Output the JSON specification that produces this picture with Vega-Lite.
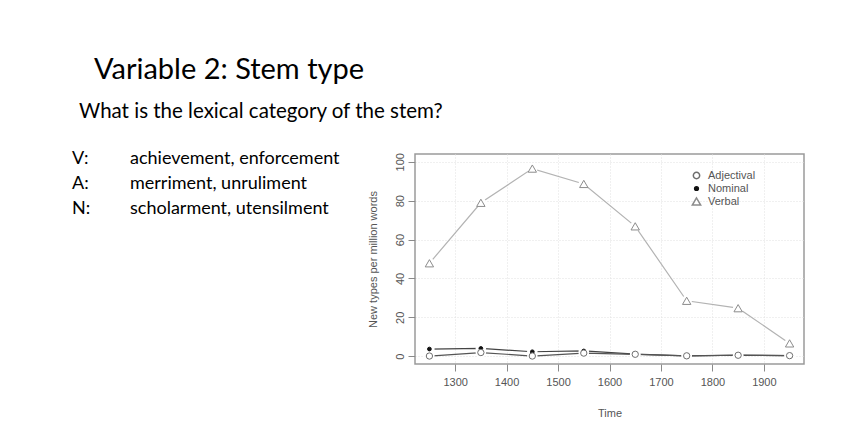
{
  "$schema": "https://vega.github.io/schema/vega-lite/v6.json",
  "autosize": {"type": "pad"},
  "padding": {"left": 72, "top": 54, "right": 64, "bottom": 17},
  "background": "white",
  "config": {"view": {"stroke": null}},
  "spacing": 0,
  "bounds": "flush",
  "resolve": {
    "scale": {"color": "independent", "shape": "independent", "fill": "independent", "stroke": "independent", "size": "independent"},
    "legend": {"color": "independent", "shape": "independent", "fill": "independent", "stroke": "independent", "size": "independent"}
  },
  "hconcat": [
    {
      "width": 343,
      "height": 60,
      "title": {
        "text": "What is the lexical category of the stem?",
        "anchor": "start",
        "frame": "group",
        "dx": 7,
        "offset": 12,
        "baseline": "alphabetic",
        "font": "Lato",
        "fontSize": 20.5,
        "fontWeight": "normal",
        "color": "#000000"
      },
      "data": {
        "values": [
          {"key": "V:", "desc": "achievement, enforcement"},
          {"key": "A:", "desc": "merriment, unruliment"},
          {"key": "N:", "desc": "scholarment, utensilment"}
        ]
      },
      "transform": [{"fold": ["key", "desc"], "as": ["column", "value"]}],
      "mark": {"type": "text", "align": "left", "baseline": "middle", "font": "Lato", "fontSize": 18, "color": "#000000"},
      "encoding": {
        "x": {"field": "column", "type": "nominal", "scale": {"type": "point", "domain": ["key", "desc"], "range": [0, 58], "padding": 0}, "axis": null},
        "y": {"field": "key", "type": "nominal", "sort": ["V:", "A:", "N:"], "scale": {"type": "point", "padding": 0.2}, "axis": null},
        "text": {"field": "value", "type": "nominal"}
      }
    },
    {
      "width": 389,
      "height": 210,
      "view": {"stroke": "#9a9a9a", "strokeWidth": 1.5},
      "title": {
        "text": "Variable 2: Stem type",
        "anchor": "start",
        "frame": "group",
        "dx": -321,
        "offset": 45,
        "baseline": "alphabetic",
        "font": "Lato",
        "fontSize": 29,
        "fontWeight": "normal",
        "color": "#000000"
      },
      "data": {
        "values": [
          {"year": 1250, "series": "Verbal", "value": 47.8},
          {"year": 1350, "series": "Verbal", "value": 78.9},
          {"year": 1450, "series": "Verbal", "value": 96.5},
          {"year": 1550, "series": "Verbal", "value": 88.6},
          {"year": 1650, "series": "Verbal", "value": 66.8},
          {"year": 1750, "series": "Verbal", "value": 28.5},
          {"year": 1850, "series": "Verbal", "value": 24.7},
          {"year": 1950, "series": "Verbal", "value": 6.6},
          {"year": 1250, "series": "Nominal", "value": 3.7},
          {"year": 1350, "series": "Nominal", "value": 4.0},
          {"year": 1450, "series": "Nominal", "value": 2.3},
          {"year": 1550, "series": "Nominal", "value": 2.7},
          {"year": 1650, "series": "Nominal", "value": 1.1},
          {"year": 1750, "series": "Nominal", "value": 0.2},
          {"year": 1850, "series": "Nominal", "value": 0.6},
          {"year": 1950, "series": "Nominal", "value": 0.3},
          {"year": 1250, "series": "Adjectival", "value": 0.1},
          {"year": 1350, "series": "Adjectival", "value": 1.9},
          {"year": 1450, "series": "Adjectival", "value": 0.1},
          {"year": 1550, "series": "Adjectival", "value": 1.6},
          {"year": 1650, "series": "Adjectival", "value": 1.0},
          {"year": 1750, "series": "Adjectival", "value": 0.2},
          {"year": 1850, "series": "Adjectival", "value": 0.5},
          {"year": 1950, "series": "Adjectival", "value": 0.3}
        ]
      },
      "encoding": {
        "x": {
          "field": "year",
          "type": "quantitative",
          "scale": {"domain": [1222, 1978], "nice": false, "zero": false},
          "axis": {
            "values": [1300, 1400, 1500, 1600, 1700, 1800, 1900],
            "format": "d",
            "title": "Time",
            "grid": true,
            "gridColor": "#e0e0e0",
            "gridDash": [1, 2],
            "domain": false,
            "tickColor": "#8a8a8a",
            "tickSize": 7,
            "labelFont": "Liberation Sans",
            "labelFontSize": 11,
            "labelColor": "#555555",
            "labelPadding": 5,
            "titleFont": "Liberation Sans",
            "titleFontSize": 11,
            "titleFontWeight": "normal",
            "titleColor": "#555555",
            "titlePadding": 20
          }
        },
        "y": {
          "field": "value",
          "type": "quantitative",
          "scale": {"domain": [-4, 104], "nice": false, "zero": false},
          "axis": {
            "values": [0, 20, 40, 60, 80, 100],
            "format": "d",
            "title": "New types per million words",
            "grid": true,
            "gridColor": "#e0e0e0",
            "gridDash": [1, 2],
            "domain": false,
            "tickColor": "#8a8a8a",
            "tickSize": 7,
            "labelAngle": -90,
            "labelAlign": "center",
            "labelBaseline": "bottom",
            "labelFont": "Liberation Sans",
            "labelFontSize": 11,
            "labelColor": "#555555",
            "labelPadding": 3,
            "titleFont": "Liberation Sans",
            "titleFontSize": 11,
            "titleFontWeight": "normal",
            "titleColor": "#555555",
            "titlePadding": 16
          }
        }
      },
      "layer": [
        {
          "mark": {"type": "line", "strokeWidth": 1.2},
          "encoding": {
            "color": {
              "field": "series",
              "type": "nominal",
              "scale": {"domain": ["Verbal", "Nominal", "Adjectival"], "range": ["#b3b3b3", "#444444", "#555555"]},
              "legend": null
            }
          }
        },
        {
          "mark": {"type": "point", "filled": true, "shape": "circle", "size": 110, "color": "white", "opacity": 1, "strokeWidth": 0}
        },
        {
          "mark": {"type": "point", "opacity": 1, "strokeWidth": 1, "fillOpacity": 1},
          "encoding": {
            "shape": {
              "field": "series", "type": "nominal",
              "scale": {"domain": ["Adjectival", "Nominal", "Verbal"], "range": ["circle", "circle", "triangle-up"]},
              "legend": {"orient": "none", "legendX": 276, "legendY": 16, "padding": 0, "title": null, "labelFont": "Liberation Sans", "labelFontSize": 11, "labelColor": "#555555", "labelOffset": 6, "rowPadding": 0}
            },
            "fill": {
              "field": "series", "type": "nominal",
              "scale": {"type": "ordinal", "domain": ["Adjectival", "Nominal", "Verbal"], "range": ["#ffffff", "#111111", "#ffffff"]},
              "legend": {"orient": "none", "legendX": 276, "legendY": 16, "padding": 0, "title": null, "labelFont": "Liberation Sans", "labelFontSize": 11, "labelColor": "#555555", "labelOffset": 6, "rowPadding": 0}
            },
            "stroke": {
              "field": "series", "type": "nominal",
              "scale": {"type": "ordinal", "domain": ["Adjectival", "Nominal", "Verbal"], "range": ["#6e6e6e", "#111111", "#8c8c8c"]},
              "legend": {"orient": "none", "legendX": 276, "legendY": 16, "padding": 0, "title": null, "labelFont": "Liberation Sans", "labelFontSize": 11, "labelColor": "#555555", "labelOffset": 6, "rowPadding": 0}
            },
            "size": {
              "field": "series", "type": "nominal",
              "scale": {"type": "ordinal", "domain": ["Adjectival", "Nominal", "Verbal"], "range": [40, 14, 70]},
              "legend": {"orient": "none", "legendX": 276, "legendY": 16, "padding": 0, "title": null, "labelFont": "Liberation Sans", "labelFontSize": 11, "labelColor": "#555555", "labelOffset": 6, "rowPadding": 0}
            }
          }
        }
      ]
    }
  ]
}
